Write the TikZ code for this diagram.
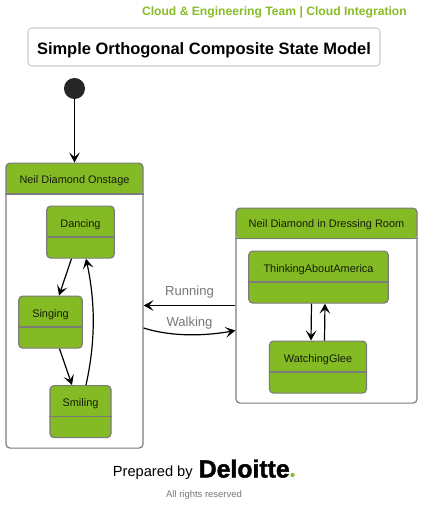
\documentclass[tikz,border=0pt]{standalone}
\usepackage{fontspec}
\setmainfont{Liberation Sans}
\newfontfamily\logofont[BoldFeatures={FakeBold=1.6}]{Liberation Sans}
\usetikzlibrary{arrows.meta,calc}
\definecolor{stategreen}{HTML}{84BB25}
\definecolor{teamgreen}{HTML}{86BC25}
\definecolor{edgegray}{HTML}{7C7C7C}
\definecolor{labelgray}{HTML}{777777}
\tikzset{
  flow/.style={-{Stealth[length=7.5pt,width=8pt,inset=3.4pt]},line width=0.9pt,black},
  statebox/.style={draw=edgegray,line width=0.9pt,rounded corners=3pt,fill=stategreen,inner sep=0pt},
  compositebox/.style={draw=edgegray,line width=0.9pt,rounded corners=3pt,fill=white,inner sep=0pt},
  statetext/.style={font=\fontsize{8.2pt}{10pt}\selectfont,text=black!85!stategreen},
  edgetext/.style={font=\fontsize{9.8pt}{12pt}\selectfont,text=labelgray},
}
\begin{document}
\begin{tikzpicture}[x=0.75pt,y=-0.75pt]
  \useasboundingbox (0,0) rectangle (423,508);
  \node[font=\bfseries\fontsize{9.1pt}{12pt}\selectfont,text=teamgreen,anchor=east,inner sep=0pt] (team) at (407,12.5)
    {Cloud \& Engineering Team | Cloud Integration};
  \node[draw=black!20,line width=0.8pt,rounded corners=3pt,minimum width=264pt,minimum height=28.5pt,inner sep=0pt,
    text height=14.2pt,text depth=2.6pt,font=\bfseries\fontsize{12.35pt}{14pt}\selectfont] (title) at (204,47)
    {Simple Orthogonal Composite State Model};
  \node[circle,fill=black!85,minimum size=15.8pt,inner sep=0pt] (start) at (74.5,88.5) {};
  % composite states: name/text/centre x/top/width/height/header
  \foreach \nm/\txt/\cx/\ty/\bw/\bh/\hh in {
    onstage/Neil Diamond Onstage/74.5/162.5/137/285/31.5,
    dressing/Neil Diamond in Dressing Room/326.5/207.5/181/195/31} {
    \node[compositebox,anchor=north,minimum width=\bw*0.75pt,minimum height=\bh*0.75pt,
      path picture={\fill[stategreen] ($(path picture bounding box.north west)$) rectangle
        ($(path picture bounding box.north east)+(0,\hh)$);}] (\nm) at (\cx,\ty) {};
    \draw[edgegray,line width=0.9pt] ($(\nm.north west)+(0,\hh)$) -- ($(\nm.north east)+(0,\hh)$);
    \node[statetext] (\nm text) at ($(\nm.north)+(0,\hh/2+2)$) {\txt};
  }
  % simple states: name/text/centre x/top/width
  \foreach \nm/\txt/\cx/\ty/\bw in {
    dancing/Dancing/80.5/205.5/67.5,
    singing/Singing/50.5/295.5/63.5,
    smiling/Smiling/80.5/385/61,
    thinking/ThinkingAboutAmerica/318.5/250.5/139.5,
    watching/WatchingGlee/318/340.5/97} {
    \node[statebox,anchor=north,minimum width=\bw*0.75pt,minimum height=39pt] (\nm) at (\cx,\ty) {};
    \draw[edgegray,line width=0.9pt] ($(\nm.north west)+(0,31.5)$) -- ($(\nm.north east)+(0,31.5)$);
    \node[statetext] (\nm text) at ($(\nm.north)+(0,19)$) {\txt};
  }
  \draw[flow] (start) -- (onstage.north);
  \draw[flow] ($(dancing.south)+(-9,0)$) -- ($(singing.north)+(8.5,0)$);
  \draw[flow] ($(singing.south)+(9,0)$) -- ($(smiling.north)+(-8.5,0)$);
  \draw[flow] ($(smiling.north)+(5.5,0)$) .. controls (96,340) and (95,300) .. ($(dancing.south)+(5.5,0)$);
  \draw[flow] (dressing.west |- 0,305.5) -- (onstage.east |- 0,305.5);
  \draw[flow] (onstage.east |- 0,328) .. controls (172,337) and (205,336) .. (dressing.west |- 0,330.5);
  \draw[flow] ($(thinking.south)+(-7,0)$) -- ($(watching.north)+(-7,0)$);
  \draw[flow] ($(watching.north)+(6.5,0)$) -- ($(thinking.south)+(6.5,0)$);
  \node[edgetext] (running) at (189.5,292) {Running};
  \node[edgetext] (walking) at (189.5,323) {Walking};
  \node[font=\fontsize{11pt}{13pt}\selectfont,anchor=east,inner sep=0pt] (prepared) at (193,472.5) {Prepared by};
  \node[font=\logofont\bfseries\fontsize{18.6pt}{20pt}\selectfont,anchor=base west,inner sep=0pt] (deloitte) at (198.5,477.5) {Deloitte};
  \node[circle,fill=teamgreen,minimum size=3.2pt,inner sep=0pt] (logodot) at (292.5,475) {};
  \node[font=\fontsize{7.1pt}{8pt}\selectfont,text=labelgray] (rights) at (204,495.5) {All rights reserved};
\end{tikzpicture}
\end{document}
